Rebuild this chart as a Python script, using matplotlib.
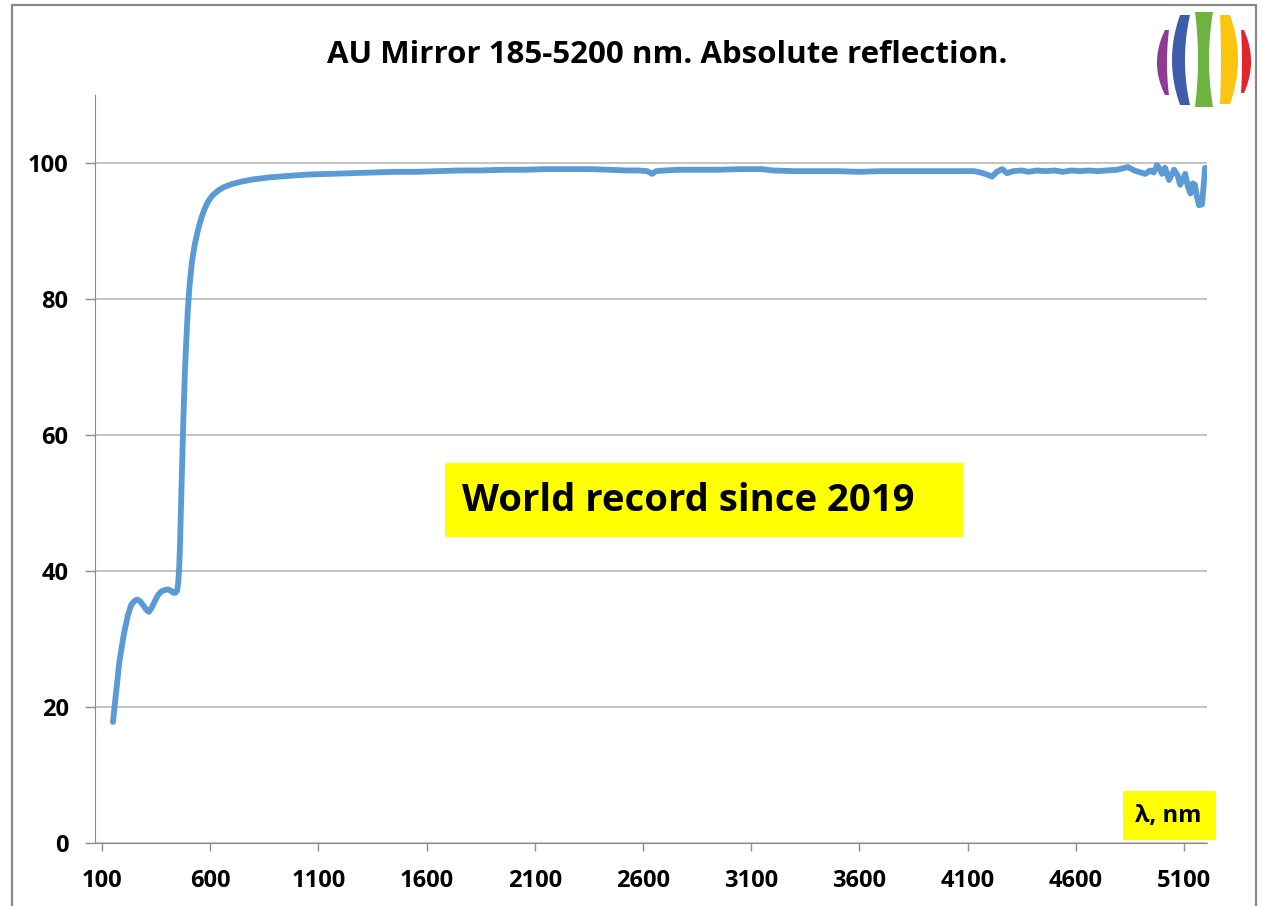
import numpy as np
import matplotlib
matplotlib.use('Agg')
import matplotlib.pyplot as plt
from matplotlib.patches import Rectangle, Polygon

plt.rcParams['font.family'] = ['Open Sans', 'DejaVu Sans']
plt.rcParams['font.weight'] = 'bold'

# wavelength (nm)
wavelength = [151, 160, 180, 200, 220, 235, 250, 262, 275, 290, 305, 317, 330, 345, 360,
              375, 390, 405, 418, 430, 440, 448, 453, 457, 461, 465, 470, 476, 483, 490,
              497, 505, 516, 530, 545, 560, 575, 590, 610, 635, 660, 700, 750, 800, 880,
              960, 1050, 1150, 1250, 1350, 1450, 1550, 1650, 1750, 1850, 1950, 2050, 2150,
              2250, 2350, 2450, 2520, 2580, 2620, 2642, 2660, 2700, 2760, 2850, 2950, 3050,
              3150, 3200, 3300, 3400, 3500, 3600, 3700, 3800, 3900, 4000, 4080, 4130, 4160,
              4190, 4213, 4235, 4259, 4282, 4310, 4350, 4380, 4420, 4460, 4500, 4540, 4580,
              4620, 4660, 4700, 4740, 4790, 4841, 4870, 4900, 4920, 4943, 4960, 4975, 4990,
              4998, 5012, 5031, 5054, 5070, 5082, 5095, 5105, 5118, 5130, 5140, 5150, 5160,
              5169, 5183, 5190, 5197]

# absolute reflection, %
reflection = [17.8, 20.5, 26.5, 30.5, 33.5, 35.0, 35.6, 35.8, 35.6, 35.0, 34.3, 34.0, 34.6, 35.6, 36.5,
              37.0, 37.2, 37.3, 37.1, 36.8, 36.8, 37.2, 38.5, 40.5, 44.0, 49.0, 55.0, 62.0, 69.0, 74.0,
              78.5, 82.0, 85.5, 88.2, 90.3, 92.0, 93.3, 94.3, 95.2, 95.9, 96.4, 96.9, 97.3, 97.6, 97.9,
              98.1, 98.3, 98.4, 98.5, 98.6, 98.7, 98.7, 98.8, 98.9, 98.9, 99.0, 99.0, 99.1,
              99.1, 99.1, 99.0, 98.9, 98.9, 98.8, 98.4, 98.8, 98.9, 99.0, 99.0, 99.0, 99.1,
              99.1, 98.9, 98.8, 98.8, 98.8, 98.7, 98.8, 98.8, 98.8, 98.8, 98.8, 98.8, 98.6,
              98.3, 98.0, 98.7, 99.1, 98.5, 98.8, 98.9, 98.7, 98.9, 98.8, 98.9, 98.7, 98.9,
              98.8, 98.9, 98.8, 98.9, 99.0, 99.4, 98.9, 98.6, 98.4, 98.9, 98.6, 99.7, 99.0,
              98.4, 99.3, 97.5, 99.0, 98.2, 96.8, 97.6, 98.4, 96.5, 95.5, 97.0, 96.8, 95.0,
              93.8, 93.9, 96.5, 99.3]

x_ticks = [100, 600, 1100, 1600, 2100, 2600, 3100, 3600, 4100, 4600, 5100]
y_ticks = [0, 20, 40, 60, 80, 100]

W, H = 1261, 906
fig = plt.figure(figsize=(W / 100, H / 100), dpi=100)
ax = fig.add_axes([95 / W, 1 - 843 / H, (1207 - 95) / W, (843 - 95) / H])

ax.plot(wavelength, reflection, color='#5B9BD5', lw=4.2, solid_capstyle='round',
        solid_joinstyle='round', zorder=3)

ax.set_xlim(68, 5206)
ax.set_ylim(0, 110)
ax.set_xticks(x_ticks)
ax.set_yticks(y_ticks)
ax.tick_params(axis='x', length=6, width=1, color='#8c8c8c', pad=13, labelsize=17)
ax.tick_params(axis='y', length=7, width=1, color='#8c8c8c', pad=12, labelsize=17)
for lab in ax.get_xticklabels() + ax.get_yticklabels():
    lab.set_fontweight('bold')

ax.grid(axis='y', color='#bfbfbf', lw=1.3)
ax.set_axisbelow(True)
for s in ['top', 'right']:
    ax.spines[s].set_visible(False)
ax.spines['left'].set_color('#8c8c8c')
ax.spines['bottom'].set_color('#8c8c8c')

fig.text(667 / W, 1 - 55 / H, 'AU Mirror 185-5200 nm. Absolute reflection.',
         ha='center', va='center', fontsize=22.5, fontweight='bold')

fig.text(462 / W, 1 - 501 / H, 'World record since 2019', ha='left', va='center',
         fontsize=27.5, fontweight='bold', color='black', zorder=5)
fig.patches.append(Rectangle((445 / W, 1 - 537 / H), (963 - 445) / W, (537 - 463) / H,
                             transform=fig.transFigure, facecolor='#ffff00',
                             edgecolor='none', zorder=4))

fig.patches.append(Rectangle((1123 / W, 1 - 840 / H), (1216 - 1123) / W, (840 - 791) / H,
                             transform=fig.transFigure, facecolor='#ffff00',
                             edgecolor='none', zorder=4))
fig.text(1168 / W, 1 - 816 / H, 'λ, nm', ha='center', va='center', fontsize=17,
         fontweight='bold', zorder=5)

# border around the figure
fig.patches.append(Rectangle((12 / W, -0.01), (1256 - 12) / W, 1 - 5 / H + 0.01,
                             transform=fig.transFigure, facecolor='none',
                             edgecolor='#8a8a8a', lw=1.6))

# logo: five curved colour bands
logo = fig.add_axes([1150 / W, 1 - 110 / H, 110 / W, 100 / H])
logo.set_xlim(1150, 1260)
logo.set_ylim(110, 10)
logo.axis('off')
bands = [
    # colour, top, bottom, left end/mid, right end/mid
    ('#8e3b96', 30, 95, (1165, 1157), (1169, 1167)),
    ('#3e5dab', 15, 105, (1180, 1172), (1190, 1185)),
    ('#6db33f', 12, 107, (1195, 1198), (1213, 1209)),
    ('#fbc40f', 15, 104, (1220, 1221), (1230, 1238)),
    ('#e2262b', 30, 93, (1241, 1242), (1244, 1251)),
]
t = np.linspace(-1, 1, 40)
for col, top, bot, (le, lm), (re, rm) in bands:
    yy = (top + bot) / 2 + t * (bot - top) / 2
    xl = le + (lm - le) * (1 - t ** 2)
    xr = re + (rm - re) * (1 - t ** 2)
    pts = np.vstack([np.column_stack([xl, yy]), np.column_stack([xr, yy])[::-1]])
    logo.add_patch(Polygon(pts, closed=True, facecolor=col, edgecolor='none'))

fig.savefig('out.png', dpi=100)
